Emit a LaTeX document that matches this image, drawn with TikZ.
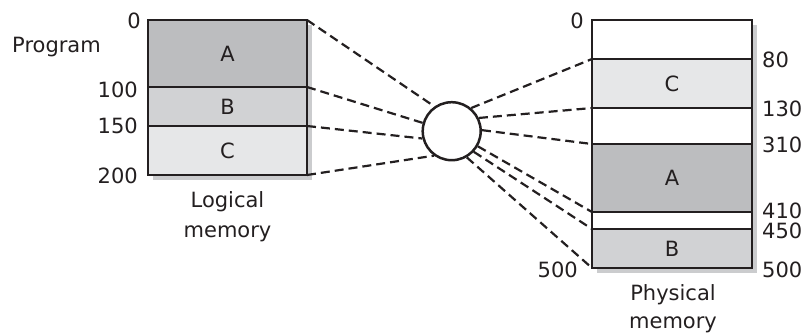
\documentclass[tikz,border=0pt]{standalone}
\usepackage{fontspec}
\setmainfont{DejaVu Sans}
\definecolor{ink}{HTML}{231F20}
\definecolor{gA}{HTML}{BCBDBF}
\definecolor{gB}{HTML}{D1D2D4}
\definecolor{gC}{HTML}{E6E7E8}
\definecolor{shade}{HTML}{CBCCCE}
\tikzset{
  seg/.style={draw=ink, line width=2.3pt, inner sep=0pt, outer sep=0pt, text=ink,
    font=\fontsize{21}{25}\selectfont},
  lseg/.style={seg, minimum width=159pt},
  rseg/.style={seg, minimum width=160pt},
  lbl/.style={text=ink, inner sep=0pt, font=\fontsize{21}{25}\selectfont},
  map/.style={draw=ink, line width=2.2pt, dash pattern=on 9pt off 5pt},
  shadow/.style={fill=shade, draw=none}
}
\begin{document}
\begin{tikzpicture}[x=1pt,y=-1pt]
\useasboundingbox (0,0) rectangle (808,333);
% shadows
\fill[shadow] (153,25) rectangle (312,180);
\fill[shadow] (597,25) rectangle (757,273);
% logical memory
\node[lseg, fill=gA, minimum height=67pt] (LA) at (227.5,53.5) {A};
\node[lseg, fill=gB, minimum height=39pt] (LB) at (227.5,106.5) {B};
\node[lseg, fill=gC, minimum height=49pt] (LC) at (227.5,150.5) {C};
% physical memory
\node[rseg, fill=white, minimum height=39pt] (R0) at (672,39.5) {};
\node[rseg, fill=gC, minimum height=49pt] (RC) at (672,83.5) {C};
\node[rseg, fill=white, minimum height=36pt] (R1) at (672,126) {};
\node[rseg, fill=gA, minimum height=68pt] (RA) at (672,178) {A};
\node[rseg, fill=white, minimum height=17pt] (R2) at (672,220.5) {};
\node[rseg, fill=gB, minimum height=39pt] (RB) at (672,248.5) {B};
% mapping circle
\node[circle, draw=ink, line width=2.5pt, fill=white, minimum size=58pt, inner sep=0pt] (M) at (451.7,131.2) {};
% labels left
\node[lbl, anchor=east] (l0) at (141,21) {0};
\node[lbl] (prog) at (56.5,47) {Program};
\node[lbl, anchor=east] (l100) at (138,89.5) {100};
\node[lbl, anchor=east] (l150) at (138,126) {150};
\node[lbl, anchor=east] (l200) at (138,176) {200};
\node[lbl, align=center, font=\fontsize{21}{30}\selectfont] (lm) at (227.5,217) {Logical\\memory};
% labels right
\node[lbl, anchor=east] (r0) at (584,21) {0};
\node[lbl, anchor=west] (r80) at (762,59.5) {80};
\node[lbl, anchor=west] (r130) at (762,109) {130};
\node[lbl, anchor=west] (r310) at (762,144.5) {310};
\node[lbl, anchor=west] (r410) at (762,211) {410};
\node[lbl, anchor=west] (r450) at (762,230.5) {450};
\node[lbl, anchor=west] (r500) at (762,269.5) {500};
\node[lbl, anchor=east] (r500l) at (578,269.5) {500};
\node[lbl, align=center, font=\fontsize{21}{28}\selectfont] (pm) at (673,308.5) {Physical\\memory};
% mapping lines
\draw[map] (LA.north east) -- (M.125.5);
\draw[map] (LB.north east) -- (M.164.6);
\draw[map] (LC.north east) -- (M.194.7);
\draw[map] (LC.south east) -- (M.234);
\draw[map] (M.50) -- (RC.north west);
\draw[map] (M.26.6) -- (R1.north west);
\draw[map] (M.2) -- (RA.north west);
\draw[map] (M.-30.7) -- (R2.north west);
\draw[map] (M.-43) -- (RB.north west);
\draw[map] (M.-60.5) -- (RB.south west);
\end{tikzpicture}
\end{document}
